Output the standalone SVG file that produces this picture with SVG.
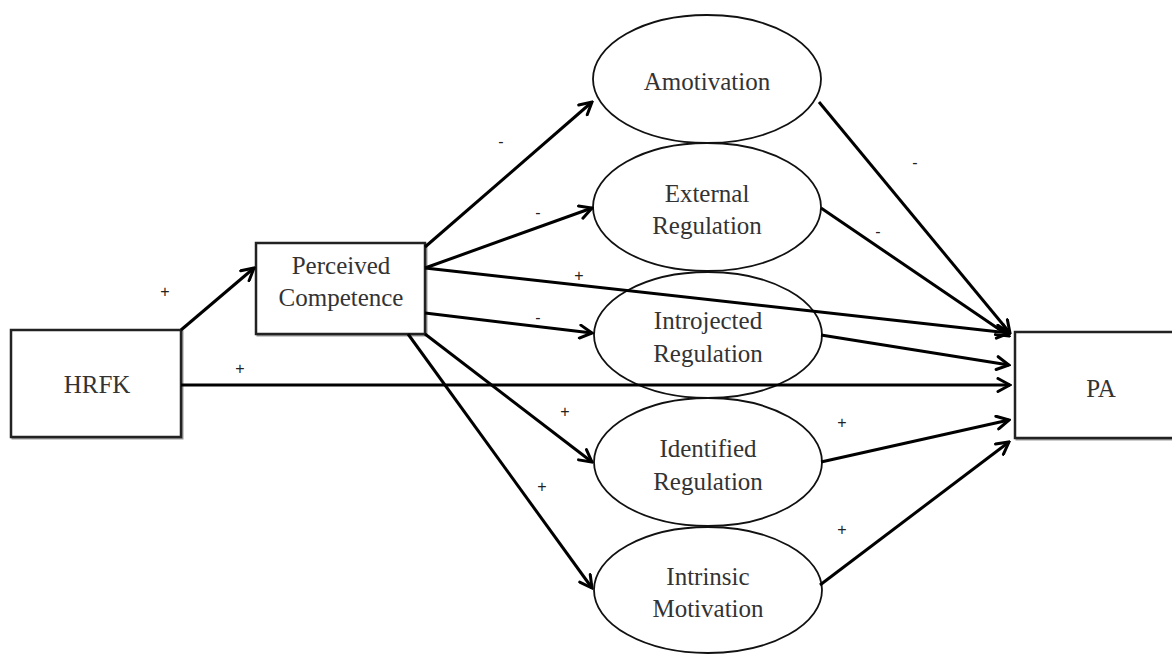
<svg xmlns="http://www.w3.org/2000/svg" width="1172" height="656" viewBox="0 0 1172 656">
<defs>
<marker id="arr" viewBox="0 0 16 16" refX="14" refY="8" markerWidth="16" markerHeight="16" markerUnits="userSpaceOnUse" orient="auto">
<path d="M2,1.5 L14,8 L2,14.5" fill="none" stroke="#000" stroke-width="3" stroke-linecap="round" stroke-linejoin="miter"/>
</marker>
<style>
.box{fill:#fff;stroke:#222;stroke-width:2.5}
.shadow{fill:none;stroke:#999;stroke-width:2}
.ell{fill:#fff;stroke:#111;stroke-width:1.8}
.t{font-family:"Liberation Serif","Times New Roman",serif;font-size:25px;fill:#333;text-anchor:middle}
.s{font-family:"Liberation Sans",Arial,sans-serif;font-size:16px;fill:#222;text-anchor:middle}
.c{fill:none;stroke:#000;stroke-width:3;marker-end:url(#arr)}
</style>
</defs>
<rect width="1172" height="656" fill="#fff"/>
<g id="node-hrfk">
<rect class="shadow" x="12.5" y="331.5" width="170" height="107"/>
<rect class="box" x="11" y="330" width="170" height="107"/>
<text class="t" x="97" y="393">HRFK</text>
</g>
<g id="node-pc">
<rect class="shadow" x="257.5" y="244.5" width="169" height="91"/>
<rect class="box" x="256" y="243" width="169" height="91"/>
<text class="t" x="341" y="274">Perceived</text>
<text class="t" x="341" y="306">Competence</text>
</g>
<g id="node-pa">
<rect class="shadow" x="1016.5" y="333.5" width="170" height="106"/>
<rect class="box" x="1015" y="332" width="170" height="106"/>
<text class="t" x="1101" y="397">PA</text>
</g>
<g id="node-amot">
<ellipse class="ell" cx="707" cy="79" rx="114" ry="64"/>
<text class="t" x="707" y="90">Amotivation</text>
</g>
<g id="node-ext">
<ellipse class="ell" cx="707" cy="207" rx="114" ry="64"/>
<text class="t" x="707" y="202">External</text>
<text class="t" x="707" y="234">Regulation</text>
</g>
<g id="node-intro">
<ellipse class="ell" cx="708" cy="335" rx="114" ry="63"/>
<text class="t" x="708" y="329">Introjected</text>
<text class="t" x="708" y="362">Regulation</text>
</g>
<g id="node-ident">
<ellipse class="ell" cx="708" cy="462" rx="114" ry="64"/>
<text class="t" x="708" y="457">Identified</text>
<text class="t" x="708" y="490">Regulation</text>
</g>
<g id="node-intr">
<ellipse class="ell" cx="708" cy="590" rx="114" ry="63"/>
<text class="t" x="708" y="585">Intrinsic</text>
<text class="t" x="708" y="617">Motivation</text>
</g>
<g id="connectors">
<line class="c" x1="181" y1="330" x2="254" y2="268"/>
<line class="c" x1="181" y1="385" x2="1010" y2="385"/>
<line class="c" x1="425" y1="247" x2="592" y2="102"/>
<line class="c" x1="425" y1="268" x2="592" y2="208"/>
<line class="c" x1="425" y1="268" x2="1009" y2="333"/>
<line class="c" x1="425" y1="313" x2="592" y2="333"/>
<line class="c" x1="425" y1="334" x2="592" y2="462"/>
<line class="c" x1="408" y1="334" x2="592" y2="588"/>
<line class="c" x1="819" y1="102" x2="1010" y2="333"/>
<line class="c" x1="821" y1="208" x2="1009" y2="336"/>
<line class="c" x1="821" y1="335" x2="1009" y2="365"/>
<line class="c" x1="821" y1="462" x2="1009" y2="420"/>
<line class="c" x1="820" y1="585" x2="1009" y2="442"/>
</g>
<g id="labels">
<text class="s" x="165" y="297">+</text>
<text class="s" x="240" y="374">+</text>
<text class="s" x="501" y="147">-</text>
<text class="s" x="538" y="218">-</text>
<text class="s" x="579" y="281">+</text>
<text class="s" x="538" y="323">-</text>
<text class="s" x="565" y="417">+</text>
<text class="s" x="542" y="492">+</text>
<text class="s" x="915" y="168">-</text>
<text class="s" x="878" y="237">-</text>
<text class="s" x="842" y="428">+</text>
<text class="s" x="842" y="535">+</text>
</g>
</svg>
